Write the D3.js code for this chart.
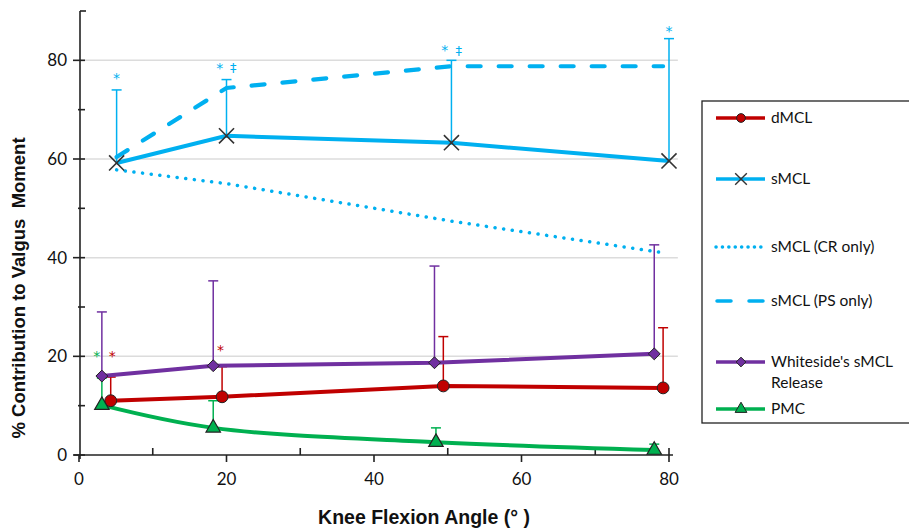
<!DOCTYPE html>
<html>
<head>
<meta charset="utf-8">
<script src="https://cdn.jsdelivr.net/npm/d3@7"></script>
<style>
  body { margin: 0; background: #fff; }
  svg { display: block; }
</style>
</head>
<body>
<svg id="chart" width="909" height="528"></svg>
<script>
// ---- data: % contribution to valgus moment vs knee flexion angle ----
const dmclAngle = [4.3, 19.4, 49.4, 79.2];
const dmclValue = [11.0, 11.8, 14.0, 13.6];
const dmclUpper = [15.8, 17.9, 24.0, 25.8];

const smclAngle = [5.1, 20.0, 50.5, 80.0];
const smclValue = [59.2, 64.7, 63.3, 59.6];
const smclUpper = [74.0, 76.1, 80.0, 84.4];

const smclCrAngle = [5.1, 20.0, 50.5, 79.2];
const smclCrValue = [57.8, 55.0, 47.4, 41.0];

const smclPsAngle = [5.1, 20.0, 50.5, 79.2];
const smclPsValue = [60.4, 74.4, 78.8, 78.8];

const whitesideAngle = [3.1, 18.2, 48.2, 78.0];
const whitesideValue = [16.0, 18.1, 18.7, 20.5];
const whitesideUpper = [29.0, 35.3, 38.3, 42.6];

const pmcAngle = [3.1, 18.2, 48.4, 78.0];
const pmcValue = [10.1, 5.5, 2.6, 1.0];
const pmcUpper = [15.6, 11.0, 5.5, 2.2];

// significance markers: angle, value, symbol, series
const sigAngle  = [5.1, 19.1, 20.9, 49.6, 51.5, 80.0, 4.5, 19.2, 2.4];
const sigValue  = [76.5, 78.5, 78.5, 82.0, 82.0, 86.0, 20.0, 21.2, 20.0];
const sigSymbol = ["*", "*", "\u2021", "*", "\u2021", "*", "*", "*", "*"];
const sigSeries = ["smcl", "smcl", "smcl", "smcl", "smcl", "smcl", "dmcl", "dmcl", "pmc"];

const xTicks = [0, 20, 40, 60, 80];
const xMinorTicks = [10, 30, 50, 70];
const yTicks = [0, 20, 40, 60, 80];
const yMinorTicks = [10, 30, 50, 70];

const legendLabels = ["dMCL", "sMCL", "sMCL (CR only)", "sMCL (PS only)", "Whiteside's sMCL\nRelease", "PMC"];

// ---- styling ----
const colors = {
  dmcl: "#c00000",
  smcl: "#00b0f0",
  whiteside: "#7030a0",
  pmc: "#00b050"
};

const svg = d3.select("#chart");
const x = d3.scaleLinear().domain([0, 80]).range([79, 669]);
const y = d3.scaleLinear().domain([0, 90]).range([455, 11]);

// gridlines
svg.append("g").selectAll("line")
  .data(yTicks.filter(d => d > 0))
  .join("line")
  .attr("x1", x(0)).attr("x2", x(81.2))
  .attr("y1", d => y(d)).attr("y2", d => y(d))
  .attr("stroke", "#dcdcdc").attr("stroke-width", 1.5);

// y axis
const yAxis = svg.append("g");
yAxis.append("line")
  .attr("x1", x(0) + 1).attr("x2", x(0) + 1)
  .attr("y1", y(90)).attr("y2", y(0) + 4)
  .attr("stroke", "#222").attr("stroke-width", 1.6);
yAxis.append("line")
  .attr("x1", x(0) + 1).attr("x2", x(0) + 7)
  .attr("y1", y(90)).attr("y2", y(90))
  .attr("stroke", "#222").attr("stroke-width", 1.6);
yAxis.selectAll(".ymaj").data(yTicks).join("line")
  .attr("x1", x(0) - 6).attr("x2", x(0) + 6)
  .attr("y1", d => y(d)).attr("y2", d => y(d))
  .attr("stroke", "#222").attr("stroke-width", 1.6);
yAxis.selectAll(".ymin").data(yMinorTicks).join("line")
  .attr("class", "ymin")
  .attr("x1", x(0) - 1).attr("x2", x(0) + 6)
  .attr("y1", d => y(d)).attr("y2", d => y(d))
  .attr("stroke", "#222").attr("stroke-width", 1.6);
yAxis.selectAll("text").data(yTicks).join("text")
  .attr("x", x(0) - 12).attr("y", d => y(d))
  .attr("dy", "0.35em")
  .attr("text-anchor", "end")
  .attr("font-family", "Lato, 'Noto Sans', sans-serif")
  .attr("font-size", 17)
  .attr("fill", "#111")
  .text(d => d);

// x axis
const xAxis = svg.append("g");
xAxis.append("line")
  .attr("x1", x(0) - 5).attr("x2", x(80) + 4)
  .attr("y1", y(0)).attr("y2", y(0))
  .attr("stroke", "#222").attr("stroke-width", 1.6);
xAxis.selectAll(".xmaj").data(xTicks).join("line")
  .attr("x1", d => x(d)).attr("x2", d => x(d))
  .attr("y1", d => d === 80 ? y(0) - 7 : y(0)).attr("y2", y(0) + 7)
  .attr("stroke", "#222").attr("stroke-width", 1.6);
xAxis.selectAll(".xmin").data(xMinorTicks).join("line")
  .attr("class", "xmin")
  .attr("x1", d => x(d)).attr("x2", d => x(d))
  .attr("y1", y(0) - 7).attr("y2", y(0))
  .attr("stroke", "#222").attr("stroke-width", 1.6);
xAxis.selectAll("text").data(xTicks).join("text")
  .attr("x", d => x(d)).attr("y", y(0) + 30)
  .attr("text-anchor", "middle")
  .attr("font-family", "Lato, 'Noto Sans', sans-serif")
  .attr("font-size", 17)
  .attr("fill", "#111")
  .text(d => d);

// axis titles
svg.append("text")
  .attr("x", 424).attr("y", 524)
  .attr("text-anchor", "middle")
  .attr("font-family", "'Liberation Sans', Arial, sans-serif")
  .attr("font-weight", "bold")
  .attr("font-size", 19.5)
  .attr("fill", "#111")
  .text("Knee Flexion Angle (°\u00a0)");
svg.append("text")
  .attr("transform", `translate(25, 288) rotate(-90)`)
  .attr("text-anchor", "middle")
  .attr("font-family", "'Liberation Sans', Arial, sans-serif")
  .attr("font-weight", "bold")
  .attr("font-size", 18.5)
  .attr("fill", "#111")
  .text("% Contribution to Valgus\u00a0 Moment");

// helpers
const zip = (xs, ys) => xs.map((v, i) => [v, ys[i]]);
const lineGen = d3.line().x(d => x(d[0])).y(d => y(d[1]));

function errorBars(xs, vs, us, color) {
  const g = svg.append("g");
  xs.forEach((a, i) => {
    g.append("line")
      .attr("x1", x(a)).attr("x2", x(a))
      .attr("y1", y(vs[i])).attr("y2", y(us[i]))
      .attr("stroke", color).attr("stroke-width", 1.5);
    g.append("line")
      .attr("x1", x(a) - 5).attr("x2", x(a) + 5)
      .attr("y1", y(us[i])).attr("y2", y(us[i]))
      .attr("stroke", color).attr("stroke-width", 1.5);
  });
}

// error bars (drawn beneath lines)
errorBars(smclAngle, smclValue, smclUpper, colors.smcl);
errorBars(whitesideAngle, whitesideValue, whitesideUpper, colors.whiteside);
errorBars(dmclAngle, dmclValue, dmclUpper, colors.dmcl);
errorBars(pmcAngle, pmcValue, pmcUpper, colors.pmc);

// sMCL subgroup lines
svg.append("path")
  .datum(zip(smclCrAngle, smclCrValue))
  .attr("d", lineGen)
  .attr("fill", "none").attr("stroke", colors.smcl)
  .attr("stroke-width", 3.5).attr("stroke-linecap", "round")
  .attr("stroke-dasharray", "0.1 8.6");
svg.append("path")
  .datum(zip(smclPsAngle, smclPsValue))
  .attr("d", lineGen)
  .attr("fill", "none").attr("stroke", colors.smcl)
  .attr("stroke-width", 4.2).attr("stroke-linecap", "round")
  .attr("stroke-dasharray", "13 18");

// main series lines
svg.append("path")
  .datum(zip(smclAngle, smclValue))
  .attr("d", lineGen)
  .attr("fill", "none").attr("stroke", colors.smcl).attr("stroke-width", 4);
svg.append("path")
  .datum(zip(whitesideAngle, whitesideValue))
  .attr("d", lineGen)
  .attr("fill", "none").attr("stroke", colors.whiteside).attr("stroke-width", 4);
svg.append("path")
  .datum(zip(dmclAngle, dmclValue))
  .attr("d", lineGen)
  .attr("fill", "none").attr("stroke", colors.dmcl).attr("stroke-width", 4);
svg.append("path")
  .datum(zip(pmcAngle, pmcValue))
  .attr("d", d3.line().x(d => x(d[0])).y(d => y(d[1])).curve(d3.curveCatmullRom.alpha(0.5)))
  .attr("fill", "none").attr("stroke", colors.pmc).attr("stroke-width", 4);

// markers
const sym = {
  circle: d3.symbol().type(d3.symbolCircle).size(110),
  diamond: d3.symbol().type(d3.symbolDiamond2).size(90),
  triangle: d3.symbol().type(d3.symbolTriangle).size(90),
  cross: d3.symbol().type(d3.symbolX).size(150)
};
function markers(xs, vs, shape, fill, stroke, sw) {
  svg.append("g").selectAll("path")
    .data(zip(xs, vs)).join("path")
    .attr("transform", d => `translate(${x(d[0])},${y(d[1])})`)
    .attr("d", sym[shape])
    .attr("fill", fill).attr("stroke", stroke).attr("stroke-width", sw);
}
markers(smclAngle, smclValue, "cross", "none", "#333", 1.6);
markers(whitesideAngle, whitesideValue, "diamond", colors.whiteside, "#222", 1);
markers(dmclAngle, dmclValue, "circle", colors.dmcl, "#222", 1);
markers(pmcAngle, pmcValue, "triangle", colors.pmc, "#222", 1.2);

// significance symbols
svg.append("g").selectAll("text")
  .data(sigAngle.map((a, i) => ({ a, v: sigValue[i], s: sigSymbol[i], c: colors[sigSeries[i]] })))
  .join("text")
  .attr("x", d => x(d.a)).attr("y", d => y(d.v))
  .attr("dy", "0.35em")
  .attr("text-anchor", "middle")
  .attr("font-family", "'DejaVu Sans', sans-serif")
  .attr("font-size", d => d.s === "*" ? 14 : 13)
  .attr("fill", d => d.c)
  .text(d => d.s);

// legend
const lg = svg.append("g");
lg.append("rect")
  .attr("x", 702).attr("y", 101).attr("width", 230).attr("height", 322)
  .attr("fill", "#fff").attr("stroke", "#222").attr("stroke-width", 1.3);
const legendRows = [
  { y: 118, color: colors.dmcl, dash: null, marker: "circle", fill: colors.dmcl, stroke: "#222" },
  { y: 179, color: colors.smcl, dash: null, marker: "cross", fill: "none", stroke: "#333" },
  { y: 247, color: colors.smcl, dash: "0.1 6.3", marker: null },
  { y: 301, color: colors.smcl, dash: "14 18", marker: null },
  { y: 362, color: colors.whiteside, dash: null, marker: "diamond", fill: colors.whiteside, stroke: "#222" },
  { y: 409, color: colors.pmc, dash: null, marker: "triangle", fill: colors.pmc, stroke: "#222" }
];
legendRows.forEach((r, i) => {
  const ln = lg.append("line")
    .attr("x1", r.dash === "14 18" ? 717 : 716).attr("x2", 765)
    .attr("y1", r.y).attr("y2", r.y)
    .attr("stroke", r.color).attr("stroke-width", 3.5);
  if (r.dash) ln.attr("stroke-dasharray", r.dash).attr("stroke-linecap", "round");
  if (r.marker) {
    const s = d3.symbol().type({
      circle: d3.symbolCircle, cross: d3.symbolX, diamond: d3.symbolDiamond2, triangle: d3.symbolTriangle
    }[r.marker]).size(r.marker === "cross" ? 90 : 60);
    lg.append("path")
      .attr("transform", `translate(741,${r.y})`)
      .attr("d", s)
      .attr("fill", r.fill).attr("stroke", r.stroke)
      .attr("stroke-width", r.marker === "cross" ? 1.4 : 1);
  }
  const lines = legendLabels[i].split("\n");
  const t = lg.append("text")
    .attr("x", 771).attr("y", r.y)
    .attr("font-family", "Lato, 'Noto Sans', sans-serif")
    .attr("font-size", 15.5)
    .attr("fill", "#111");
  lines.forEach((l, j) => {
    t.append("tspan").attr("x", 771).attr("dy", j === 0 ? "0.35em" : "1.35em").text(l);
  });
});
</script>
</body>
</html>
